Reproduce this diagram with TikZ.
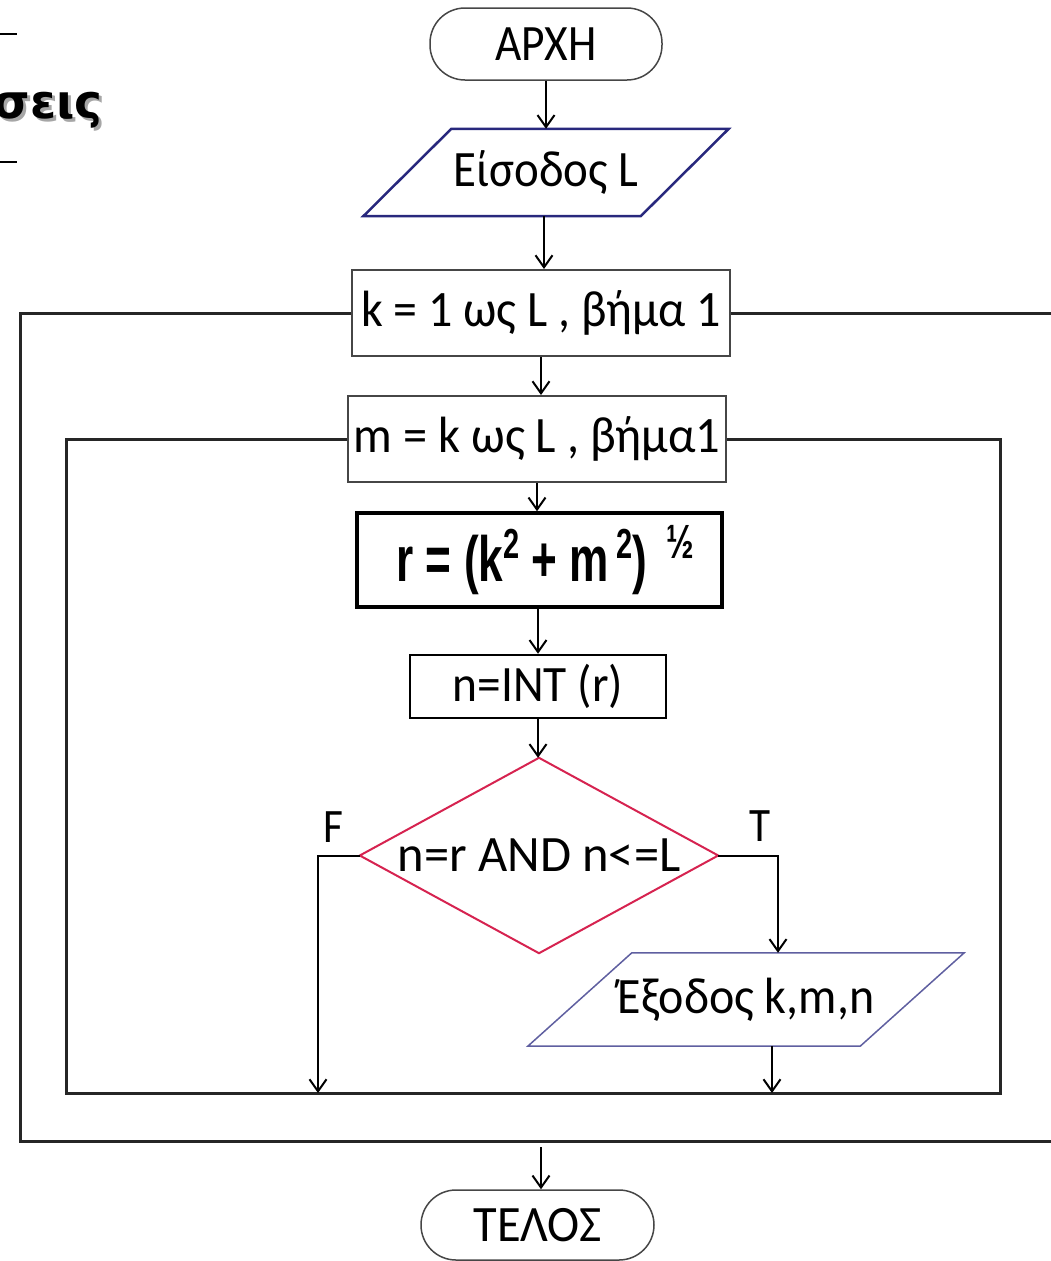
\documentclass[tikz,border=0pt]{standalone}
\usepackage{fontspec}
\setmainfont{Carlito}
\newfontfamily\formfont{Liberation Sans}
\newfontfamily\headfont{DejaVu Sans}
\usetikzlibrary{arrows.meta,calc}
\definecolor{navyline}{RGB}{40,40,125}
\definecolor{slateline}{RGB}{95,95,160}
\definecolor{crimsonline}{RGB}{214,35,80}
\definecolor{boxgray}{RGB}{70,70,70}
\newcommand\narrowtxt[2][0.93]{\scalebox{#1}[1]{#2}}
\newcommand\formsup[1]{\raisebox{0.36em}{\fontsize{42}{46}\selectfont #1}}
\begin{document}
\begin{tikzpicture}[x=1pt,y=-1pt,
  txt/.style={font=\fontsize{51}{55}\selectfont},
  term/.style={draw=boxgray, line width=1.5pt, rounded corners=35pt, inner sep=0pt, txt},
  plain/.style={inner sep=0pt, txt},
  procbox/.style={draw=boxgray, line width=2pt, inner sep=0pt, txt},
  flow/.style={line width=2pt, draw=black},
  arr/.style={flow, -{Straight Barb[length=12pt,width=17pt,line width=2pt]}},
  loopline/.style={line width=3pt, draw=black!85},
  lbl/.style={inner sep=0pt, font=\fontsize{48}{52}\selectfont}
]
\useasboundingbox (0,0) rectangle (1051,1261);

% heading fragment at top left (text with its drop shadow)
\node[anchor=base east, inner sep=0pt, font=\headfont\bfseries\fontsize{47}{50}\selectfont] (hd) at (103,118)
  {\rlap{\hspace{3pt}\raisebox{-3pt}{\textcolor{black!35}{σεις}}}σεις\hspace{0pt}};
\draw[line width=2pt] (0,34) -- (17,34);
\draw[line width=2pt] (0,162) -- (17,162);

% nodes
\node[term, minimum width=232pt, minimum height=72pt] (start) at (546,44) {\narrowtxt[0.89]{ΑΡΧΗ}};
\node[plain, minimum width=277pt, minimum height=87pt] (in) at (546,172.5) {\narrowtxt[0.92]{Είσοδος L}};
\draw[navyline, line width=2.5pt, line join=miter]
  ($(in.south west)+(-44,0)$) -- ($(in.north west)+(44,0)$) -- ($(in.north east)+(44,0)$) -- ($(in.south east)+(-44,0)$) -- cycle;
\node[procbox, minimum width=378pt, minimum height=86pt] (b1) at (541,313) {\narrowtxt[0.94]{k = 1 ως L , βήμα 1}};
\node[procbox, minimum width=378pt, minimum height=86pt] (b2) at (537,439) {\narrowtxt[0.95]{m = k ως L , βήμα1}};
\node[draw=black, line width=3.5pt, inner sep=0pt, minimum width=365pt, minimum height=94pt,
  font=\formfont\bfseries\fontsize{64}{68}\selectfont] (f) at (539.5,560)
  {\hspace{12pt}\scalebox{0.69}[1]{r = (k\formsup{2} + m\,\formsup{2}) \,\formsup{\fontsize{48}{50}\selectfont ½}}};
\node[draw=black, line width=2.5pt, inner sep=0pt, minimum width=256pt, minimum height=63pt, txt] (int) at (538,686.5) {\narrowtxt[0.93]{n=INT (r)}};
\node[plain, minimum width=358pt, minimum height=195pt] (d) at (539,855.5) {\narrowtxt[0.99]{n=r AND n<=L}};
\draw[crimsonline, line width=2pt, line join=miter] (d.north) -- (d.east) -- (d.south) -- (d.west) -- cycle;
\node[plain, minimum width=332pt, minimum height=93pt] (out) at (746,999.5) {\narrowtxt[0.94]{Έξοδος k,m,n}};
\draw[slateline, line width=1.5pt, line join=miter]
  ($(out.south west)+(-52,0)$) -- ($(out.north west)+(52,0)$) -- ($(out.north east)+(52,0)$) -- ($(out.south east)+(-52,0)$) -- cycle;
\node[term, minimum width=233pt, minimum height=70pt] (end) at (537.5,1225) {\narrowtxt[0.95]{ΤΕΛΟΣ}};
\node[lbl] (F) at (333,827) {\narrowtxt[0.9]{F}};
\node[lbl] (T) at (760,826) {\narrowtxt[0.9]{T}};

% loop coordinates
\coordinate (oBL) at (20,1141);
\coordinate (oBR) at (1070,1141);
\coordinate (oTR) at (1070,313);
\coordinate (iBL) at (66,1093);
\coordinate (iBR) at (1000,1093);
\coordinate (fEnd) at (318,1093);
\coordinate (eStart) at (541,1147);

% loops
\draw[loopline] (b1.west) -| (oBL) -- (oBR);
\draw[loopline] (b1.east) -- (oTR) -- (oBR);
\draw[loopline] (b2.west) -| (iBL) -- (iBR) |- (b2.east);

% connectors
\draw[arr] (start.south) -- (start.south |- in.north);
\draw[arr] ([xshift=-2pt]in.south) -- ([xshift=-2pt]in.south |- b1.north);
\draw[arr] (b1.south) -- (b1.south |- b2.north);
\draw[arr] (b2.south) -- (b2.south |- f.north);
\draw[arr] ([xshift=-1.5pt]f.south) -- ([xshift=-1.5pt]f.south |- int.north);
\draw[arr] (int.south) -- (int.south |- d.north);
\draw[arr] (d.west) -| (fEnd);
\draw[arr] (d.east) -| ([xshift=32pt]out.north);
\draw[arr] ([xshift=26pt]out.south) -- ([xshift=26pt]out.south |- iBR);
\draw[arr] (eStart) -- (eStart |- end.north);
\end{tikzpicture}
\end{document}
